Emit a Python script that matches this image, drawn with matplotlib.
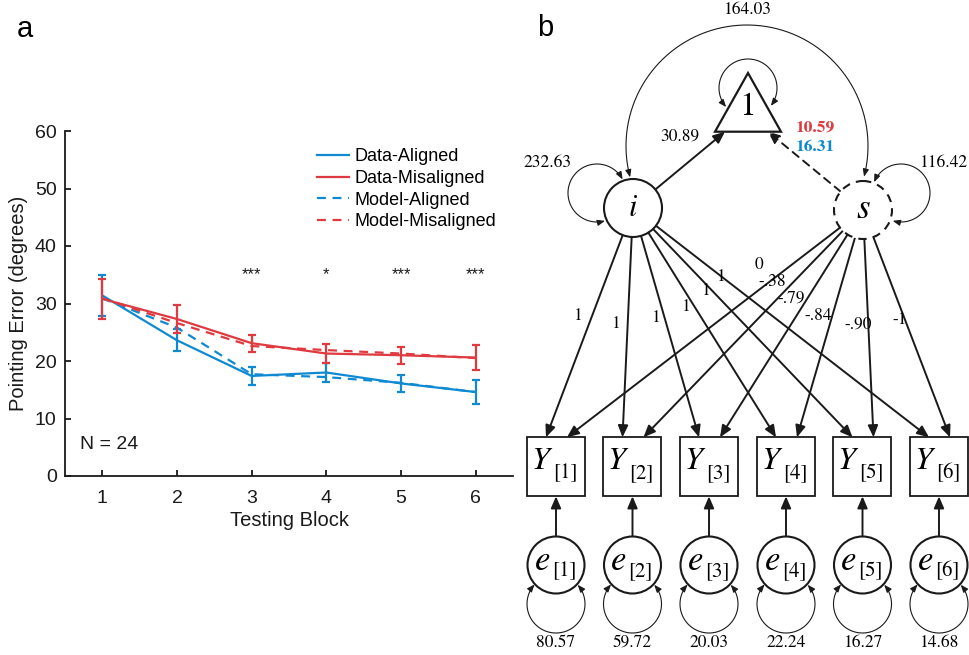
import numpy as np
import matplotlib.pyplot as plt
from matplotlib.patches import Rectangle, Circle, Polygon, FancyArrowPatch
from matplotlib.path import Path

plt.rcParams['font.family'] = ['Liberation Sans', 'DejaVu Sans']
plt.rcParams['mathtext.fontset'] = 'stix'

# ---- panel a data ----
blocks = [1, 2, 3, 4, 5, 6]
data_aligned = [31.4, 23.6, 17.4, 18.0, 16.1, 14.6]
data_aligned_err = [3.5, 1.9, 1.5, 1.7, 1.55, 2.1]
data_misaligned = [30.8, 27.3, 23.1, 21.3, 21.0, 20.6]
data_misaligned_err = [3.5, 2.5, 1.45, 1.7, 1.5, 2.1]
model_aligned = [30.9, 25.8, 17.7, 17.2, 16.2, 14.6]
model_misaligned = [30.9, 26.6, 22.6, 21.9, 21.3, 20.5]
signif = ["", "", "***", "*", "***", "***"]
signif_y = 35.1
yticks = [0, 10, 20, 30, 40, 50, 60]

# ---- panel b data ----
obs_idx = ["1", "2", "3", "4", "5", "6"]
loadings_i = ["1", "1", "1", "1", "1", "1"]
loadings_s = ["0", "-.38", "-.79", "-.84", "-.90", "-1"]
resid_var = ["80.57", "59.72", "20.03", "22.24", "16.27", "14.68"]
var_i = "232.63"
var_s = "116.42"
cov_is = "164.03"
mean_i = "30.89"
mean_s_mis = "10.59"
mean_s_al = "16.31"

BLUE = '#0f8ad2'
RED = '#de3a40'
INK = '#1a1a1a'

fig = plt.figure(figsize=(9.7, 6.55), dpi=100)

# ================= panel a =================
ax = fig.add_axes([65 / 970, 1 - 476 / 655, 448 / 970, 345 / 655])

ax.plot(blocks, data_aligned, color=BLUE, lw=1.6, label='Data-Aligned')
ax.plot(blocks, data_misaligned, color=RED, lw=1.6, label='Data-Misaligned')
l3, = ax.plot(blocks, model_aligned, color=BLUE, lw=1.6, ls='--', label='Model-Aligned')
l4, = ax.plot(blocks, model_misaligned, color=RED, lw=1.6, ls='--', label='Model-Misaligned')
l3.set_dashes([4, 3])
l4.set_dashes([4, 3])
ax.errorbar(blocks, data_aligned, yerr=data_aligned_err, fmt='none', ecolor=BLUE,
            elinewidth=1.6, capsize=2.6, capthick=1.6)
ax.errorbar(blocks, data_misaligned, yerr=data_misaligned_err, fmt='none', ecolor=RED,
            elinewidth=1.6, capsize=2.6, capthick=1.6)

for x, s in zip(blocks, signif):
    if s:
        ax.text(x, signif_y, s, ha='center', va='center', fontsize=12, color=INK)

ax.text(0.7, 5.4, 'N = 24', fontsize=14, va='center', ha='left', color=INK)

ax.set_xlim(0.5, 6.5)
ax.set_ylim(0, 60)
ax.set_xticks(blocks)
ax.set_yticks(yticks)
for side in ['top', 'right']:
    ax.spines[side].set_visible(False)
for side in ['left', 'bottom']:
    ax.spines[side].set_linewidth(1.3)
    ax.spines[side].set_color(INK)
ax.tick_params(direction='in', length=4, width=1.3, color=INK, labelsize=14,
               labelcolor=INK)
ax.tick_params(axis='x', pad=10)
ax.tick_params(axis='y', pad=6)
ax.set_xlabel('Testing Block', fontsize=14.5, color=INK, labelpad=3)
ax.set_ylabel('Pointing Error (degrees)', fontsize=14.5, color=INK, labelpad=5)

ax.legend(loc='upper left', bbox_to_anchor=(0.5625, 0.95), frameon=False,
          fontsize=13, handlelength=1.75, handletextpad=0.3, labelspacing=0.26,
          borderpad=0, borderaxespad=0)

fig.text(25 / 970, 1 - 29 / 655, 'a', fontsize=21, ha='center', va='center')
fig.text(545 / 970, 1 - 28 / 655, 'b', fontsize=21, ha='center', va='center')

# ================= panel b (pixel coordinates) =================
bx = fig.add_axes([525 / 970, 0, 445 / 970, 1])
bx.set_xlim(525, 970)
bx.set_ylim(655, 0)
bx.axis('off')

serif = 'STIXGeneral'


def arrow(p0, p1, lw=1.4, ls='-', hl=7, hw=3):
    a = FancyArrowPatch(p0, p1, arrowstyle=f'-|>,head_length={hl},head_width={hw}',
                        mutation_scale=1, lw=lw, ls=ls, color=INK,
                        shrinkA=0, shrinkB=0, zorder=2)
    bx.add_patch(a)


def loop(cx, cy, r, t0, t1, lw=0.8):
    t = np.radians(np.linspace(t0, t1, 80))
    verts = np.column_stack([cx + r * np.cos(t), cy + r * np.sin(t)])
    a = FancyArrowPatch(path=Path(verts), arrowstyle='<|-|>,head_length=4.5,head_width=1.8',
                        mutation_scale=1, lw=lw, color=INK, zorder=2)
    bx.add_patch(a)


def edge_point(c, r, target):
    d = np.array(target) - np.array(c)
    return tuple(np.array(c) + r * d / np.hypot(*d))


i_c = (633, 208)
s_c = (863, 210)
r_lat = 29
tri = [(715, 131.7), (781, 131.7), (748, 73)]
box_x = [556, 632.5, 709, 786, 862.5, 939]
box_top, box_h, box_w = 437.3, 59, 58
e_cy, e_r = 565, 28.5

# triangle
bx.add_patch(Polygon(tri, closed=True, fc='white', ec=INK, lw=1.6, zorder=3))
bx.text(748, 107, '1', fontsize=24, family=serif, ha='center', va='center', zorder=4)
loop(748, 88, 29, 139, 398)

# latent circles
bx.add_patch(Circle(i_c, r_lat, fc='white', ec=INK, lw=1.5, zorder=3))
bx.add_patch(Circle(s_c, r_lat, fc='white', ec=INK, lw=1.5, ls=(0, (4, 3)), zorder=3))
bx.text(i_c[0], i_c[1], '$i$', fontsize=22, ha='center', va='center', zorder=4)
bx.text(s_c[0], s_c[1] - 1, '$s$', fontsize=25, ha='center', va='center', zorder=4)

# variances / covariance
loop(597, 193, 29, -28, -286)
loop(901, 193, 29, -158, 106.5)
loop(747, 146, 121, 165, 374.7)
bx.text(548, 163, var_i, fontsize=12.5, family=serif, ha='center', va='center')
bx.text(943, 163, var_s, fontsize=12.5, family=serif, ha='center', va='center')
bx.text(747, 10, cov_is, fontsize=12.5, family=serif, ha='center', va='center')

# means
arrow(edge_point(i_c, r_lat, (725, 131.7)), (725, 131.7))
arrow(edge_point(s_c, r_lat, (768, 131.7)), (768, 131.7), ls=(0, (4, 3)))
bx.text(680, 137, mean_i, fontsize=12.5, family=serif, ha='center', va='center')
bx.text(815, 128, mean_s_mis, fontsize=12.5, family=serif, weight='bold', color=RED,
        ha='center', va='center')
bx.text(815, 147, mean_s_al, fontsize=12.5, family=serif, weight='bold', color=BLUE,
        ha='center', va='center')

# loadings
lab_i_pos = [(577, 316), (615.5, 324), (655, 318), (685, 307), (705, 291), (720, 277)]
lab_s_pos = [(759, 265), (772, 282), (791, 299), (818, 316), (858, 325), (900, 320)]
for k in range(6):
    ti = (box_x[k] - 10, box_top)
    ts = (box_x[k] + 11, box_top)
    arrow(edge_point(i_c, r_lat, ti), ti)
    arrow(edge_point(s_c, r_lat, ts), ts)
    bx.text(*lab_i_pos[k], loadings_i[k], fontsize=12.5, family=serif, ha='center',
            va='center')
    bx.text(*lab_s_pos[k], loadings_s[k], fontsize=12.5, family=serif, ha='center',
            va='center')

# observed variables and residuals
for k in range(6):
    cx = box_x[k]
    cy = box_top + box_h / 2
    bx.add_patch(Rectangle((cx - box_w / 2, box_top), box_w, box_h, fc='white',
                           ec=INK, lw=1.3, zorder=3))
    bx.text(cx - 14, cy - 6, '$Y$', fontsize=23, ha='center', va='center', zorder=4)
    bx.text(cx + 9, cy + 7, '[' + obs_idx[k] + ']', fontsize=15, family=serif,
            ha='center', va='center', zorder=4)
    bx.add_patch(Circle((cx, e_cy), e_r, fc='white', ec=INK, lw=1.5, zorder=3))
    bx.text(cx - 14, e_cy - 5, '$e$', fontsize=25, ha='center', va='center', zorder=4)
    bx.text(cx + 8, e_cy + 6, '[' + obs_idx[k] + ']', fontsize=15, family=serif,
            ha='center', va='center', zorder=4)
    arrow((cx, e_cy - e_r), (cx, box_top + box_h))
    loop(cx, 604, 29, -137.6, -401.6)
    bx.text(cx, 643, resid_var[k], fontsize=12.5, family=serif, ha='center',
            va='center')

fig.savefig('out.png', dpi=100)
